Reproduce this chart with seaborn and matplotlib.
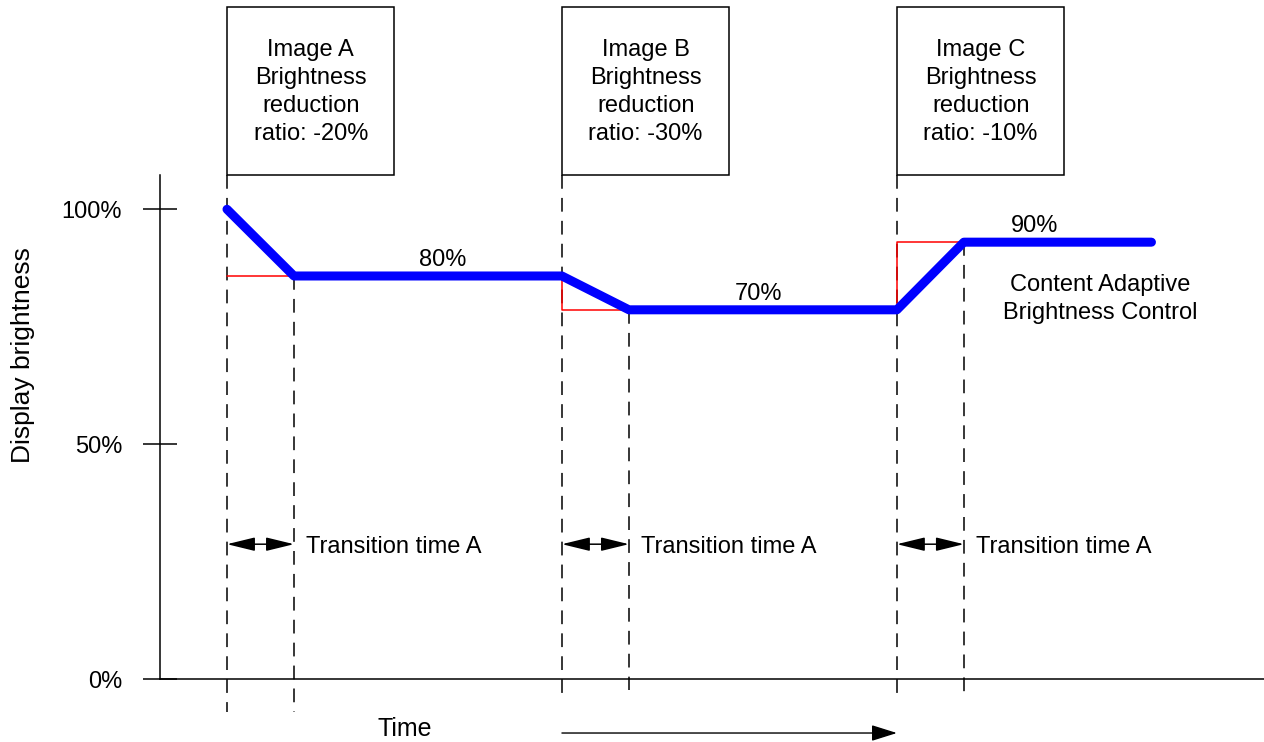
import matplotlib
matplotlib.use("Agg")
import matplotlib.pyplot as plt
import seaborn as sns
import pandas as pd
from matplotlib.patches import Rectangle

sns.set_style("white")
plt.rcParams['font.family'] = ['Liberation Sans', 'DejaVu Sans']
plt.rcParams['text.color'] = 'black'
plt.rcParams['axes.labelcolor'] = 'black'

# brightness curve (time in transition units, brightness in %)
times = [1, 2, 6, 7, 11, 12, 14.8]
brightness = [100, 85.8, 85.8, 78.6, 78.6, 93.0, 93.0]

# image change events and reduction text
event_times = [1, 6, 11]
box_texts = ["Image A\nBrightness\nreduction\nratio: -20%",
             "Image B\nBrightness\nreduction\nratio: -30%",
             "Image C\nBrightness\nreduction\nratio: -10%"]
red_start = [85.8, 85.8, 78.6]
end_levels = [85.8, 78.6, 93.0]
level_labels = ["80%", "70%", "90%"]
level_label_x = [4.22, 8.93, 13.06]
transition = 1

yticks = [0, 50, 100]
ytick_labels = ["0%", "50%", "100%"]

df = pd.DataFrame({"time": times, "brightness": brightness})

fig = plt.figure(figsize=(12.64, 7.42), dpi=100)
ax = fig.add_axes([160 / 1264, 63 / 742, 1104 / 1264, 504 / 742])
ax.set_xlim(0, 16.48)
ax.set_ylim(0, 107.3)

box_bottom = 107.3
box_h = 35.8
box_w = 2.5

# red reference lines (previous level -> new level)
for t, s, e in zip(event_times, red_start, end_levels):
    ax.plot([t, t, t + transition], [s, e, e], color="red", lw=1.1, zorder=3)

sns.lineplot(data=df, x="time", y="brightness", ax=ax, color="#0000ff",
             lw=6.5, solid_capstyle="round", solid_joinstyle="round", zorder=4)

# dashed markers
dash_bottoms_a = [-7.0, -3.4, -3.4]
dash_bottoms_b = [-7.0, -2.4, -3.4]
for t, e, b1, b2 in zip(event_times, end_levels, dash_bottoms_a, dash_bottoms_b):
    ax.plot([t, t], [box_bottom, b1], color="black", lw=1.1, dashes=(9, 6),
            clip_on=False, zorder=2)
    ax.plot([t + transition, t + transition], [e, b2], color="black", lw=1.1,
            dashes=(9, 6), clip_on=False, zorder=2)

# boxes
for t, txt in zip(event_times, box_texts):
    ax.add_patch(Rectangle((t, box_bottom), box_w, box_h, fill=False,
                           ec="black", lw=1.1, clip_on=False))
    ax.text(t + box_w / 2, box_bottom + box_h / 2 - 0.2, txt, ha="center",
            va="center", fontsize=17, linespacing=1.36)

# transition arrows
for t in event_times:
    ax.annotate("", xy=(t + transition, 28.7), xytext=(t, 28.7),
                arrowprops=dict(arrowstyle="<|-|>,head_length=1.15,head_width=0.28",
                                color="black", lw=1.1, shrinkA=0, shrinkB=0,
                                mutation_scale=15))
    ax.text(t + transition + 0.18, 28.2, "Transition time A", ha="left",
            va="center", fontsize=17)

# level labels
for x, e, lab in zip(level_label_x, end_levels, level_labels):
    ax.text(x, e + 1.1, lab, ha="center", va="bottom", fontsize=17)

ax.text(14.03, 80.9, "Content Adaptive\nBrightness Control", ha="center",
        va="center", fontsize=17, linespacing=1.3)

# time label and arrow
ax.text(3.66, -10.6, "Time", ha="center", va="center", fontsize=18)
ax.annotate("", xy=(11, -11.5), xytext=(6, -11.5), annotation_clip=False,
            arrowprops=dict(arrowstyle="-|>,head_length=1.05,head_width=0.33",
                            color="black", lw=1.0, shrinkA=0, shrinkB=0,
                            mutation_scale=15))

ax.set_yticks(yticks)
ax.set_yticklabels(ytick_labels, fontsize=17)
ax.set_xticks([])
ax.tick_params(axis="y", direction="inout", length=24.5, width=1.1, pad=15,
               colors="black", left=True)
ax.set_xlabel("")
ax.set_ylabel("Display brightness", fontsize=19)
ax.yaxis.set_label_coords(-0.113, 0.643)

for side in ["top", "right"]:
    ax.spines[side].set_visible(False)
for side in ["left", "bottom"]:
    ax.spines[side].set_color("black")
    ax.spines[side].set_linewidth(1.1)

fig.savefig("out.png", dpi=100)
